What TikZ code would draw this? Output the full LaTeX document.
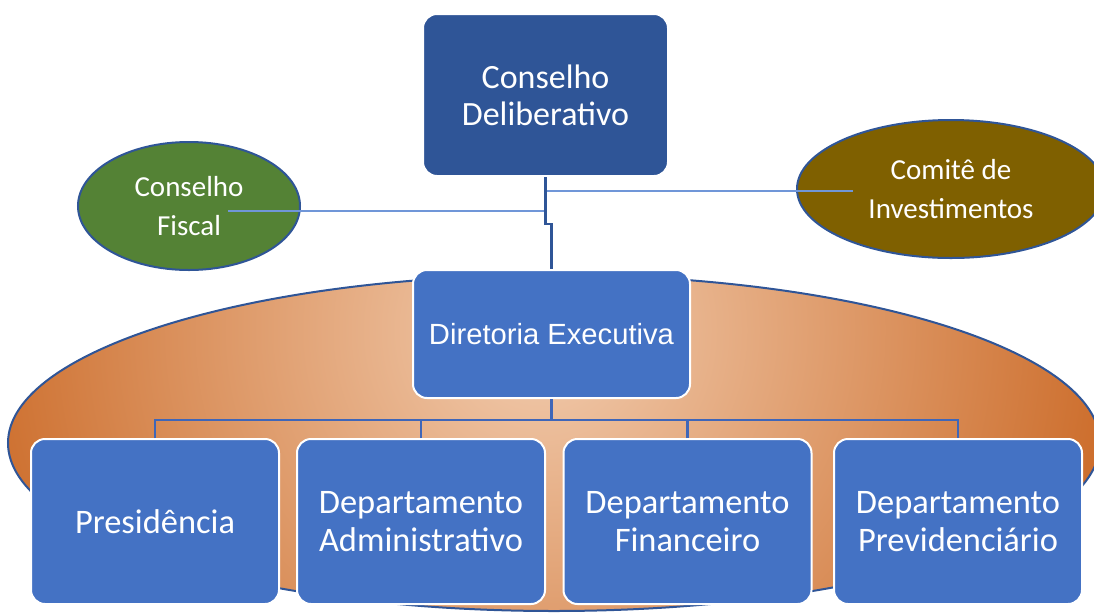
\documentclass[tikz,border=0pt]{standalone}
\usepackage{fontspec}
\setmainfont{Carlito}
\newfontfamily\arialfont{Liberation Sans}
\usepackage{xcolor}
\usetikzlibrary{shapes,positioning,calc}

\definecolor{deepblue}{HTML}{2F5597}
\definecolor{midblue}{HTML}{4472C4}
\definecolor{lineblue}{HTML}{3F66B8}
\definecolor{thinblue}{HTML}{7096D8}
\definecolor{leafgreen}{HTML}{548235}
\definecolor{olivebrown}{HTML}{7F6000}
\definecolor{peach}{HTML}{F2CDB0}
\definecolor{rust}{HTML}{C55A11}

\begin{document}
\begin{tikzpicture}[x=0.5pt,y=-0.5pt,
    orgbox/.style={draw=white,line width=1pt,fill=midblue,rounded corners=7pt,
        text=white,align=center,inner sep=0pt},
    unitbox/.style={orgbox,minimum width=124pt,minimum height=82.5pt,
        font=\fontsize{17.2}{19}\selectfont},
    council/.style={ellipse,draw=deepblue,line width=1pt,text=white,align=center,
        inner sep=0pt,font=\fontsize{14.5}{19.5}\selectfont},
    link/.style={thinblue,line width=0.7pt},
    tree/.style={lineblue,line width=1.1pt}]
    \clip (0,0) rectangle (1094,612);
    \useasboundingbox (0,0) rectangle (1094,612);

    % councils beside the top
    \node[council,fill=leafgreen,minimum width=111pt,minimum height=64pt] (fiscal) at (189,206) {Conselho\\Fiscal};
    \node[council,fill=olivebrown,minimum width=154pt,minimum height=69pt] (comite) at (951,189) {Comitê de\\Investimentos};

    % shaded area behind the executive
    \begin{scope}
        \clip (554,443) ellipse (546 and 168);
        \shade[inner color=peach,outer color=rust] (540,330) circle (690);
    \end{scope}
    \draw[deepblue,line width=1pt] (554,443) ellipse (546 and 168);

    % boxes
    \node[orgbox,fill=deepblue,minimum width=122.5pt,minimum height=81pt,
        font=\fontsize{17}{18.5}\selectfont] (deliberativo) at (545.5,95) {Conselho\\Deliberativo};
    \node[orgbox,minimum width=138.5pt,minimum height=64pt,
        font=\arialfont\fontsize{14.6}{17}\selectfont] (diretoria) at (551.5,334) {Diretoria Executiva};

    \node[unitbox] (presid) at (155,521.5) {Presidência};
    \node[unitbox] (admin) at (421,521.5) {Departamento\\Administrativo};
    \node[unitbox] (financ) at (687.5,521.5) {Departamento\\Financeiro};
    \node[unitbox] (previd) at (958,521.5) {Departamento\\Previdenciário};

    % links to the councils
    \coordinate (fiscend) at (228,211);
    \coordinate (comiend) at (853,191);
    \draw[link] (fiscend) -- (fiscend -| deliberativo.south);
    \draw[link] (comiend) -- (comiend -| deliberativo.south);
    \draw[deepblue,line width=1.2pt] (deliberativo.south) -- ++(0,47) -| (diretoria.north);

    % tree below the executive
    \draw[tree] (diretoria.south) -- ++(0,21) coordinate (bus);
    \draw[tree] (presid.north) |- (bus) -| (previd.north);
    \foreach \n in {admin,financ}
        \draw[tree] (\n.north) -- (\n.north |- bus);
\end{tikzpicture}
\end{document}
